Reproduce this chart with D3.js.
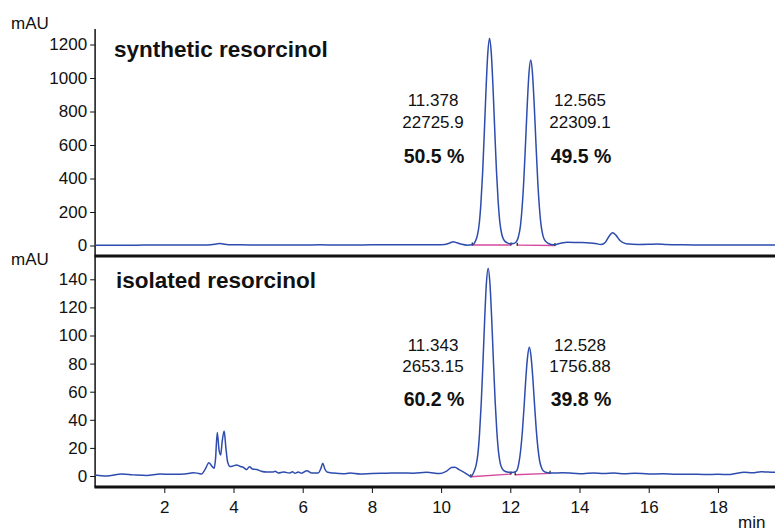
<!DOCTYPE html>
<html>
<head>
<meta charset="utf-8">
<script src="https://cdnjs.cloudflare.com/ajax/libs/d3/7.8.5/d3.min.js"></script>
<style>
	body { margin: 0; background: #fff; }
	#container { width: 775px; height: 531px; }
	text { font-family: "Liberation Sans", Arial, Helvetica, sans-serif; fill: #111; }
</style>
</head>
<body>
<div id="container"></div>
<script>
// chromatogram of synthetic resorcinol (min, mAU)
var synthTime = [0, 0.4, 0.8, 1.2, 1.6, 2.0, 2.4, 2.8, 3.1, 3.35, 3.5, 3.6, 3.7, 3.85, 4.1, 4.5, 5.0, 5.5, 6.0, 6.5, 7.0, 7.5, 8.0, 8.5, 9.0, 9.5, 9.9, 10.1, 10.25, 10.35, 10.45, 10.6, 10.75, 10.9,
	11.0, 11.05, 11.1, 11.15, 11.2, 11.25, 11.3, 11.35, 11.4, 11.45, 11.5, 11.55, 11.6, 11.65, 11.7, 11.75, 11.8, 11.9, 12.0, 12.1,
	12.19, 12.24, 12.29, 12.34, 12.39, 12.44, 12.49, 12.54, 12.59, 12.64, 12.69, 12.74, 12.79, 12.84, 12.89, 12.94, 12.99, 13.1, 13.25,
	13.45, 13.65, 14.0, 14.3, 14.5, 14.62, 14.75, 14.87, 14.96, 15.05, 15.17, 15.35, 15.7, 16.0, 16.25, 16.5, 17.0, 17.5, 18.0, 18.5, 19.0, 19.65];
var synthValue = [2, 2, 2, 2, 3, 3, 3, 3, 3, 5, 9, 12, 9, 5, 4, 3, 3, 3, 3, 4, 3, 3, 4, 4, 5, 5, 4, 6, 15, 22, 17, 7, 2, 4,
	30, 62, 127, 250, 435, 682, 940, 1150, 1237, 1150, 945, 690, 445, 260, 135, 70, 38, 17, 11, 12,
	28, 57, 113, 224, 390, 610, 842, 1030, 1107, 1030, 845, 615, 395, 230, 120, 62, 33, 12, 4,
	14, 20, 18, 15, 10, 6, 20, 60, 76, 62, 30, 10, 6, 7, 9, 6, 4, 3, 3, 3, 3, 3];

// chromatogram of isolated resorcinol (min, mAU)
var isoTime = [0, 0.33, 0.77, 1.1, 1.49, 1.88, 2.2, 2.45, 2.74, 2.84, 3.0, 3.08, 3.18, 3.29, 3.36, 3.44, 3.48, 3.53, 3.58, 3.63, 3.67, 3.73, 3.78, 3.83, 3.9, 3.97,
	4.09, 4.2, 4.28, 4.38, 4.46, 4.55, 4.67, 4.8, 4.96, 5.15, 5.2, 5.3, 5.44, 5.54, 5.63, 5.7, 5.78, 5.87, 5.97, 6.12, 6.26, 6.45, 6.52, 6.58, 6.64, 6.72, 6.88,
	7.17, 7.37, 7.66, 8.0, 8.43, 8.8, 9.2, 9.58, 9.97, 10.16, 10.3, 10.4, 10.52, 10.64, 10.79, 10.86,
	10.96, 11.01, 11.06, 11.11, 11.16, 11.21, 11.26, 11.31, 11.36, 11.41, 11.46, 11.51, 11.56, 11.61, 11.66, 11.71, 11.76, 11.86, 11.96, 12.05,
	12.15, 12.2, 12.25, 12.3, 12.35, 12.4, 12.45, 12.5, 12.55, 12.6, 12.65, 12.7, 12.75, 12.8, 12.85, 12.9, 12.95, 13.05, 13.2,
	13.5, 13.8, 14.1, 14.4, 14.7, 15.0, 15.3, 15.6, 16.0, 16.4, 16.8, 17.2, 17.6, 18.0, 18.35, 18.55, 18.75, 19.0, 19.25, 19.45, 19.65];
var isoValue = [0.7, 0, 1.4, 0.8, 0.3, 1.4, 1.2, 1.2, 1.9, 2.4, 1.8, 1.5, 4.7, 9.5, 7.5, 5.5, 12, 31, 19, 15, 24, 32, 20, 10, 6.8, 7,
	7.8, 6.8, 6.2, 4.5, 6.6, 5, 4.6, 3.4, 2.8, 2.8, 3.3, 2.2, 2.9, 2.4, 2.2, 3, 2, 2.9, 2, 3.8, 2.2, 2.2, 5, 9, 5, 2.6, 2.1,
	1.6, 2.1, 1.4, 1.8, 2, 2.2, 2, 2.6, 1.7, 3.4, 6, 6.2, 4.5, 3, 0.7, -0.5,
	3.7, 7.5, 15, 30, 52, 81, 112, 137.5, 147.8, 137.5, 113, 83, 54, 32, 17, 9, 5.5, 3.2, 2.6, 2.5,
	3, 4.5, 9.5, 18.5, 32, 50, 70, 85, 91.6, 85, 70, 51, 33, 19.5, 10.5, 6, 3.8, 2.5, 2.1,
	2.3, 2, 1.6, 2.2, 1.8, 2.1, 1.6, 2, 1.4, 1.6, 1.2, 1.3, 1.1, 1.2, 1.1, 2, 2.6, 2.3, 3.1, 2.8, 2.6];

// integration baselines [start time, start mAU, end time, end mAU]
var synthBase = [[10.90, 3, 12.02, 3], [12.20, 2, 13.29, 0]];
var isoBase = [[10.86, -0.5, 12.02, 1.4], [12.14, 0.9, 13.15, 1.9]];

// peak results
var synthRT = ['11.378', '12.565'];
var synthArea = ['22725.9', '22309.1'];
var synthPct = ['50.5 %', '49.5 %'];
var isoRT = ['11.343', '12.528'];
var isoArea = ['2653.15', '1756.88'];
var isoPct = ['60.2 %', '39.8 %'];

var topTicks = [0, 200, 400, 600, 800, 1000, 1200];
var botTicks = [0, 20, 40, 60, 80, 100, 120, 140];
var timeTicks = [2, 4, 6, 8, 10, 12, 14, 16, 18];

var width = 775, height = 531;
var left = 95.1, right = 775;
var topY0 = 29, midY = 256, botY = 487;

var svg = d3.select('#container').append('svg')
	.attr('width', width)
	.attr('height', height);

var x = d3.scaleLinear().domain([0, 19.65]).range([left, right]);
var yTop = d3.scaleLinear().domain([0, 1200]).range([245.5, 44.5]);
var yBot = d3.scaleLinear().domain([0, 140]).range([476, 279.3]);

draw();

function zip(t, v) {
	return t.map(function(d, i) { return [d, v[i]]; });
}

function yAxis(scale, major, minor, y0, y1) {
	var g = svg.append('g').attr('transform', 'translate(' + left + ',0)');
	g.call(d3.axisLeft(scale).tickValues(minor).tickSize(3).tickFormat(''));
	g.call(d3.axisLeft(scale).tickValues(major).tickSize(5).tickPadding(3).tickFormat(d3.format('d')));
	g.selectAll('.domain').remove();
	g.selectAll('line').attr('stroke', '#111');
	g.selectAll('text').style('font-size', '17px').attr('fill', '#111');
	svg.append('line')
		.attr('x1', left).attr('x2', left)
		.attr('y1', y0).attr('y2', y1)
		.attr('stroke', '#111')
		.attr('stroke-width', 1.5);
}

function trace(scale, t, v, base) {
	var line = d3.line()
		.x(function(d) { return x(d[0]); })
		.y(function(d) { return scale(d[1]); })
		.curve(d3.curveMonotoneX);

	base.forEach(function(b) {
		svg.append('line')
			.attr('x1', x(b[0])).attr('y1', scale(b[1]))
			.attr('x2', x(b[2])).attr('y2', scale(b[3]))
			.attr('stroke', '#d4499c')
			.attr('stroke-width', 1.4);
		[[b[0], b[1]], [b[2], b[3]]].forEach(function(p) {
			svg.append('line')
				.attr('x1', x(p[0])).attr('x2', x(p[0]))
				.attr('y1', scale(p[1]) - 2.5).attr('y2', scale(p[1]) + 0.5)
				.attr('stroke', '#111')
				.attr('stroke-width', 1.2);
		});
	});

	svg.append('path')
		.datum(zip(t, v))
		.attr('d', line)
		.attr('fill', 'none')
		.attr('stroke', '#2d4cae')
		.attr('stroke-width', 1.5);
}

function labels(rt, area, pct, ys) {
	var cx = [433, 580];
	rt.forEach(function(d, i) {
		svg.append('text').attr('x', cx[i]).attr('y', ys[0])
			.attr('text-anchor', 'middle').style('font-size', '17px').text(d);
		svg.append('text').attr('x', cx[i]).attr('y', ys[1])
			.attr('text-anchor', 'middle').style('font-size', '17px').text(area[i]);
		svg.append('text').attr('x', cx[i] + 1).attr('y', ys[2])
			.attr('text-anchor', 'middle').style('font-size', '19.5px').style('font-weight', 'bold').text(pct[i]);
	});
}

function draw() {

	yAxis(yTop, topTicks, d3.range(-40, 1291, 40).filter(function(d) { return d % 200 !== 0; }), topY0, midY);
	yAxis(yBot, botTicks, d3.range(-5, 156, 5).filter(function(d) { return d % 20 !== 0; }), midY, botY);

	// time axis
	var gx = svg.append('g').attr('transform', 'translate(0,' + botY + ')');
	gx.call(d3.axisBottom(x).tickValues(d3.range(0.5, 19.6, 0.5).filter(function(d) { return d % 2 !== 0; })).tickSize(4).tickFormat(''));
	gx.call(d3.axisBottom(x).tickValues(timeTicks).tickSize(6).tickPadding(8));
	gx.selectAll('.domain').remove();
	gx.selectAll('line').attr('stroke', '#111');
	gx.selectAll('text').style('font-size', '17px').attr('fill', '#111');

	trace(yTop, synthTime, synthValue, synthBase);
	trace(yBot, isoTime, isoValue, isoBase);

	svg.append('line')
		.attr('x1', left - 0.7).attr('x2', right)
		.attr('y1', midY).attr('y2', midY)
		.attr('stroke', '#111')
		.attr('stroke-width', 3);
	svg.append('line')
		.attr('x1', left - 0.7).attr('x2', right)
		.attr('y1', botY).attr('y2', botY)
		.attr('stroke', '#111')
		.attr('stroke-width', 3);

	svg.append('text').attr('x', 11).attr('y', 29).style('font-size', '17px').text('mAU');
	svg.append('text').attr('x', 11).attr('y', 265).style('font-size', '17px').text('mAU');
	svg.append('text').attr('x', 738).attr('y', 528).style('font-size', '17px').text('min');

	svg.append('text').attr('x', 114).attr('y', 57)
		.style('font-size', '22.5px').style('font-weight', 'bold')
		.text('synthetic resorcinol');
	svg.append('text').attr('x', 116).attr('y', 288)
		.style('font-size', '22.5px').style('font-weight', 'bold')
		.text('isolated resorcinol');

	labels(synthRT, synthArea, synthPct, [106, 128, 163]);
	labels(isoRT, isoArea, isoPct, [351, 371.5, 406]);
}
</script>
</body>
</html>
